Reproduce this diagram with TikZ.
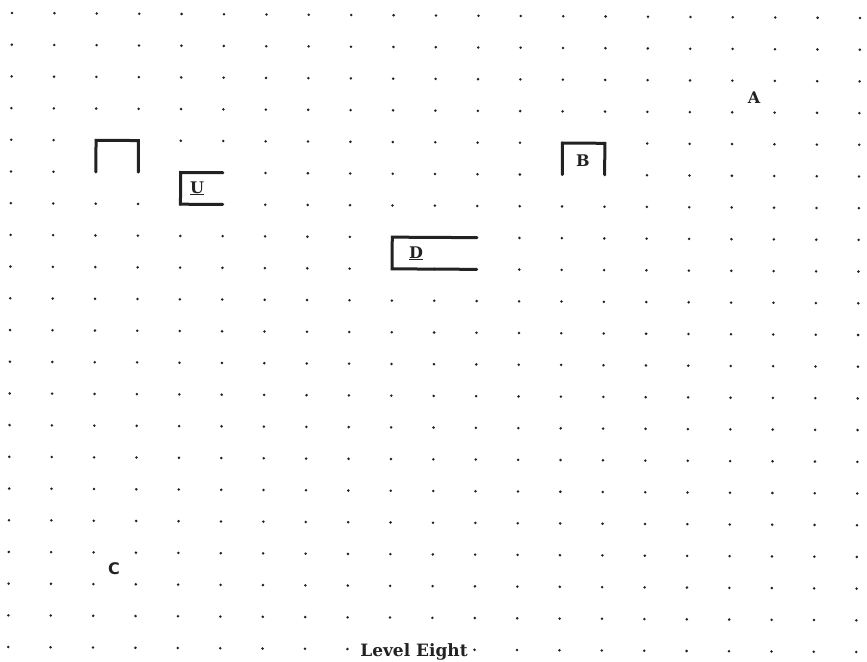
\documentclass[tikz,border=0pt]{standalone}
\usepackage{fontspec}
\setmainfont{DejaVu Serif}
\newfontfamily\labsans{DejaVu Sans}
\definecolor{ink}{HTML}{222222}
\begin{document}
\begin{tikzpicture}[x=1pt,y=-1pt,
  gdot/.style={fill=ink},
  wall/.style={draw=ink,line width=3pt,line cap=butt,line join=miter},
  lbl/.style={text=ink,inner sep=0pt,font=\fontsize{16}{16}\selectfont\bfseries},
  title/.style={text=ink,fill=white,inner sep=1pt,font=\fontsize{17}{17}\selectfont\bfseries}]
\useasboundingbox (0,0) rectangle (867,661);
\fill[white] (0,0) rectangle (867,661);
\begin{scope}[shift={(12,13)},x={(42.4pt,-0.25pt)},y={(-0.19pt,-31.7pt)}]
  \foreach \i in {0,...,20}
    \foreach \j in {0,...,20}
      \fill[gdot] (\i,\j) circle (1.4pt);
  % named corners
  \coordinate (l1) at (2,5); \coordinate (l2) at (2,4); \coordinate (l3) at (3,4); \coordinate (l4) at (3,5);
  \coordinate (u1) at (5,5); \coordinate (u2) at (4,5); \coordinate (u3) at (4,6); \coordinate (u4) at (5,6);
  \coordinate (d1) at (11,7); \coordinate (d2) at (9,7); \coordinate (d3) at (9,8); \coordinate (d4) at (11,8);
  \coordinate (b1) at (13,5); \coordinate (b2) at (13,4); \coordinate (b3) at (14,4); \coordinate (b4) at (14,5);
  \draw[wall] (l1) -- (l2) -- (l3) -- (l4);
  \draw[wall] (u1) -- (u2) -- (u3) -- (u4);
  \draw[wall] (d1) -- (d2) -- (d3) -- (d4);
  \draw[wall] (b1) -- (b2) -- (b3) -- (b4);
\end{scope}
\node[lbl] (A) at (754,98) {A};
\node[lbl] (B) at (583,161) {B};
\node[lbl,anchor=base] (U) at (197,193) {\underline{U}};
\node[lbl,anchor=base] (D) at (416,258) {\underline{D}};
\node[lbl,font=\fontsize{16}{16}\selectfont\bfseries\labsans] (C) at (114,569) {C};
\node[title,anchor=base] (T) at (414,656) {Level Eight};
\end{tikzpicture}
\end{document}
